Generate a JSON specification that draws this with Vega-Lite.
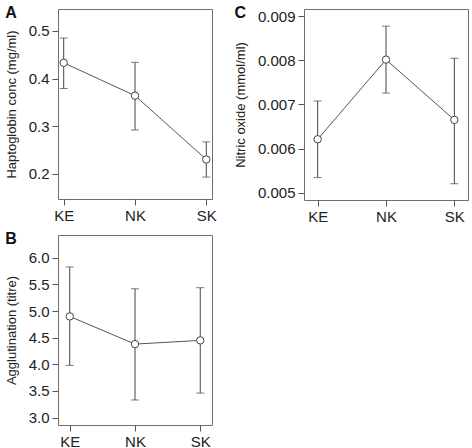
{
  "$schema": "https://vega.github.io/schema/vega-lite/v6.json",
  "padding": {"top": 4, "left": 4, "right": 0, "bottom": 0},
  "background": "white",
  "config": {
    "font": "Liberation Sans",
    "view": {"stroke": "#6e6e6e", "strokeWidth": 1},
    "axis": {
      "domain": false, "grid": false, "tickSize": 6, "tickColor": "#555555", "tickWidth": 1,
      "labelFont": "Liberation Sans", "labelFontSize": 15, "labelColor": "#222222",
      "titleFont": "Liberation Sans", "titleFontSize": 13, "titleFontWeight": "normal", "titleColor": "#222222"
    },
    "axisX": {"labelPadding": 3, "labelAngle": 0},
    "axisY": {"labelPadding": 3, "titlePadding": 10},
    "title": {"font": "Liberation Sans", "fontSize": 16, "fontWeight": "bold", "anchor": "start", "frame": "bounds", "offset": -12, "color": "#111111"}
  },
  "vconcat": [
    {
      "spacing": 16,
      "hconcat": [
        {
          "width": 154, "height": 190,
          "title": {"text": "A"},
          "data": {"values": [
            {"group": "KE", "mean": 0.433, "lo": 0.379, "hi": 0.485},
            {"group": "NK", "mean": 0.364, "lo": 0.292, "hi": 0.434},
            {"group": "SK", "mean": 0.230, "lo": 0.193, "hi": 0.267}
          ]},
          "encoding": {"x": {"field": "group", "type": "ordinal", "scale": {"type": "point", "padding": 0.08}, "axis": {"title": null}}},
          "layer": [
            {"mark": {"type": "rule", "color": "#444444", "strokeWidth": 1},
             "encoding": {"y": {"field": "lo", "type": "quantitative", "scale": {"domain": [0.147, 0.546], "nice": false, "zero": false}, "axis": {"title": "Haptoglobin conc (mg/ml)", "values": [0.2, 0.3, 0.4, 0.5], "format": ".1f"}}, "y2": {"field": "hi"}}},
            {"mark": {"type": "tick", "color": "#444444", "size": 8, "thickness": 1},
             "encoding": {"y": {"field": "lo", "type": "quantitative", "axis": {"title": "Haptoglobin conc (mg/ml)", "values": [0.2, 0.3, 0.4, 0.5], "format": ".1f"}}}},
            {"mark": {"type": "tick", "color": "#444444", "size": 8, "thickness": 1},
             "encoding": {"y": {"field": "hi", "type": "quantitative", "axis": {"title": "Haptoglobin conc (mg/ml)", "values": [0.2, 0.3, 0.4, 0.5], "format": ".1f"}}}},
            {"mark": {"type": "line", "color": "#555555", "strokeWidth": 1},
             "encoding": {"y": {"field": "mean", "type": "quantitative", "axis": {"title": "Haptoglobin conc (mg/ml)", "values": [0.2, 0.3, 0.4, 0.5], "format": ".1f"}}}},
            {"mark": {"type": "point", "shape": "circle", "filled": true, "fill": "white", "stroke": "#444444", "strokeWidth": 1, "size": 55, "opacity": 1},
             "encoding": {"y": {"field": "mean", "type": "quantitative", "axis": {"title": "Haptoglobin conc (mg/ml)", "values": [0.2, 0.3, 0.4, 0.5], "format": ".1f"}}}}
          ]
        },
        {
          "width": 164, "height": 191,
          "title": {"text": "C"},
          "data": {"values": [
            {"group": "KE", "mean": 0.00621, "lo": 0.00534, "hi": 0.00708},
            {"group": "NK", "mean": 0.00802, "lo": 0.00726, "hi": 0.00878},
            {"group": "SK", "mean": 0.00665, "lo": 0.00520, "hi": 0.00805}
          ]},
          "encoding": {"x": {"field": "group", "type": "ordinal", "scale": {"type": "point", "padding": 0.2}, "axis": {"title": null}}},
          "layer": [
            {"mark": {"type": "rule", "color": "#444444", "strokeWidth": 1},
             "encoding": {"y": {"field": "lo", "type": "quantitative", "scale": {"domain": [0.00483, 0.00917], "nice": false, "zero": false}, "axis": {"title": "Nitric oxide (mmol/ml)", "values": [0.005, 0.006, 0.007, 0.008, 0.009], "format": ".3f"}}, "y2": {"field": "hi"}}},
            {"mark": {"type": "tick", "color": "#444444", "size": 8, "thickness": 1},
             "encoding": {"y": {"field": "lo", "type": "quantitative", "axis": {"title": "Nitric oxide (mmol/ml)", "values": [0.005, 0.006, 0.007, 0.008, 0.009], "format": ".3f"}}}},
            {"mark": {"type": "tick", "color": "#444444", "size": 8, "thickness": 1},
             "encoding": {"y": {"field": "hi", "type": "quantitative", "axis": {"title": "Nitric oxide (mmol/ml)", "values": [0.005, 0.006, 0.007, 0.008, 0.009], "format": ".3f"}}}},
            {"mark": {"type": "line", "color": "#555555", "strokeWidth": 1},
             "encoding": {"y": {"field": "mean", "type": "quantitative", "axis": {"title": "Nitric oxide (mmol/ml)", "values": [0.005, 0.006, 0.007, 0.008, 0.009], "format": ".3f"}}}},
            {"mark": {"type": "point", "shape": "circle", "filled": true, "fill": "white", "stroke": "#444444", "strokeWidth": 1, "size": 55, "opacity": 1},
             "encoding": {"y": {"field": "mean", "type": "quantitative", "axis": {"title": "Nitric oxide (mmol/ml)", "values": [0.005, 0.006, 0.007, 0.008, 0.009], "format": ".3f"}}}}
          ]
        }
      ]
    },
    {
      "width": 154, "height": 190,
      "title": {"text": "B"},
      "data": {"values": [
        {"group": "KE", "mean": 4.90, "lo": 3.98, "hi": 5.83},
        {"group": "NK", "mean": 4.38, "lo": 3.33, "hi": 5.42},
        {"group": "SK", "mean": 4.45, "lo": 3.46, "hi": 5.44}
      ]},
      "encoding": {"x": {"field": "group", "type": "ordinal", "scale": {"type": "point", "padding": 0.18}, "axis": {"title": null}}},
      "layer": [
        {"mark": {"type": "rule", "color": "#444444", "strokeWidth": 1},
         "encoding": {"y": {"field": "lo", "type": "quantitative", "scale": {"domain": [2.86, 6.43], "nice": false, "zero": false}, "axis": {"title": "Agglutination (titre)", "values": [3.0, 3.5, 4.0, 4.5, 5.0, 5.5, 6.0], "format": ".1f"}}, "y2": {"field": "hi"}}},
        {"mark": {"type": "tick", "color": "#444444", "size": 8, "thickness": 1},
         "encoding": {"y": {"field": "lo", "type": "quantitative", "axis": {"title": "Agglutination (titre)", "values": [3.0, 3.5, 4.0, 4.5, 5.0, 5.5, 6.0], "format": ".1f"}}}},
        {"mark": {"type": "tick", "color": "#444444", "size": 8, "thickness": 1},
         "encoding": {"y": {"field": "hi", "type": "quantitative", "axis": {"title": "Agglutination (titre)", "values": [3.0, 3.5, 4.0, 4.5, 5.0, 5.5, 6.0], "format": ".1f"}}}},
        {"mark": {"type": "line", "color": "#555555", "strokeWidth": 1},
         "encoding": {"y": {"field": "mean", "type": "quantitative", "axis": {"title": "Agglutination (titre)", "values": [3.0, 3.5, 4.0, 4.5, 5.0, 5.5, 6.0], "format": ".1f"}}}},
        {"mark": {"type": "point", "shape": "circle", "filled": true, "fill": "white", "stroke": "#444444", "strokeWidth": 1, "size": 55, "opacity": 1},
         "encoding": {"y": {"field": "mean", "type": "quantitative", "axis": {"title": "Agglutination (titre)", "values": [3.0, 3.5, 4.0, 4.5, 5.0, 5.5, 6.0], "format": ".1f"}}}}
      ]
    }
  ],
  "spacing": 5
}
